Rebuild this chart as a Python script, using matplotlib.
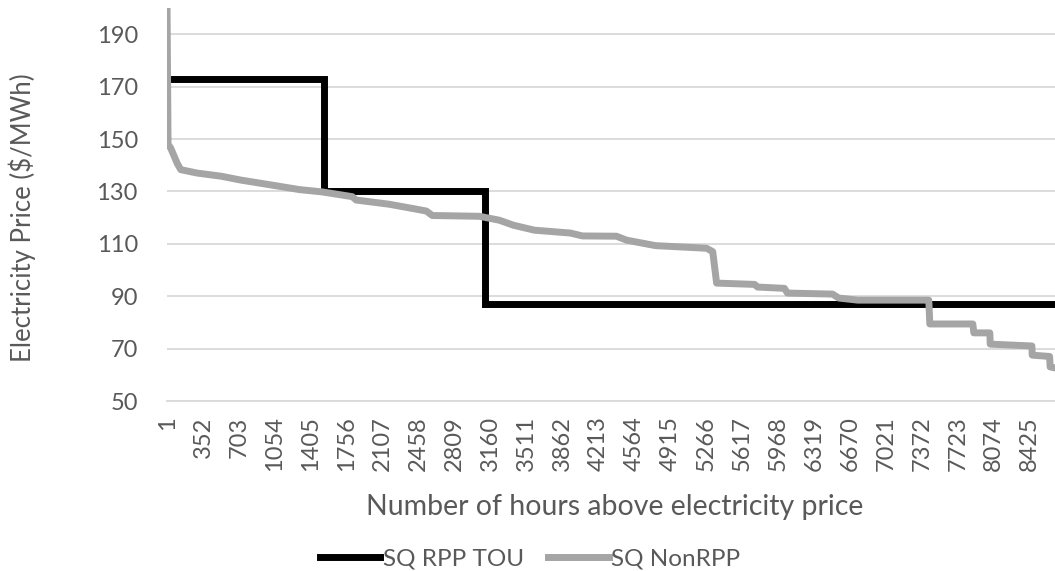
import matplotlib
matplotlib.use("Agg")
from matplotlib import pyplot as plt

# price duration data (hour rank, $/MWh)
rpp_hours = [1, 1536, 1536, 3103, 3103, 8760]
rpp_price = [173, 173, 130.3, 130.3, 87, 87]

nonrpp_hours = [1, 11, 37, 99, 135, 294, 529, 724, 1027, 1291, 1516, 1809,
                1848, 2171, 2396, 2533, 2591, 3051, 3246, 3383, 3588, 3940,
                4058, 4390, 4488, 4771, 5270, 5330, 5368, 5739, 5768, 6030,
                6060, 6500, 6560, 6746, 7440, 7450, 7870, 7880, 8036, 8040,
                8447, 8450, 8620, 8625, 8760]
nonrpp_price = [200, 148, 146.5, 140.8, 138.3, 137, 135.8, 134.3, 132.4,
                130.7, 129.8, 128, 126.7, 125.1, 123.5, 122.5, 120.8, 120.5,
                119, 117.1, 115.2, 114.1, 113, 112.9, 111.4, 109.3, 108.3,
                107, 95, 94.5, 93.5, 93, 91.2, 90.8, 89.3, 88.5, 88.5, 79.4,
                79.4, 76, 76, 71.7, 71, 67.5, 67, 63, 62]

tick_hours = list(range(1, 8760, 351))
y_ticks = [50, 70, 90, 110, 130, 150, 170, 190]

text_col = "#595959"
plt.rcParams['font.family'] = ['Lato', 'DejaVu Sans']

fig = plt.figure(figsize=(10.55, 5.71), dpi=100)
W, H = 1055, 571
ax = fig.add_axes([167 / W, 1 - 401 / H, (1064 - 167) / W, (401 - 8) / H])

ax.plot(rpp_hours, rpp_price, color="black", lw=5, label="SQ RPP TOU",
        solid_joinstyle="miter", zorder=3)
ax.plot(nonrpp_hours, nonrpp_price, color="#A5A5A5", lw=5, label="SQ NonRPP",
        solid_joinstyle="round", zorder=4)

ax.set_xlim(0.5, 8760.5)
ax.set_ylim(50, 200)
ax.set_yticks(y_ticks)
ax.set_xticks(tick_hours)
ax.set_xticklabels([str(t) for t in tick_hours], rotation=90, va="top")
ax.grid(axis="y", color="#D9D9D9", lw=1.3)
ax.set_axisbelow(True)
for s in ["top", "right", "left"]:
    ax.spines[s].set_visible(False)
ax.spines["bottom"].set_color("#D9D9D9")
ax.spines["bottom"].set_linewidth(1.3)
ax.tick_params(axis="both", length=0, labelsize=17, colors=text_col)
ax.tick_params(axis="y", pad=21)
ax.tick_params(axis="x", pad=11)

fig.text(615 / W, 1 - 515 / H, "Number of hours above electricity price",
         ha="center", va="baseline", fontsize=20.5, color=text_col)
fig.text(22 / W, 1 - 218 / H, "Electricity Price ($/MWh)", rotation=90,
         ha="center", va="center", fontsize=18.5, color=text_col)

fig.legend(loc="center", bbox_to_anchor=(530 / W, 1 - 559 / H), ncol=2,
           frameon=False, fontsize=17.5, handlelength=2.5, handletextpad=0.1,
           columnspacing=1.0, labelcolor=text_col)

fig.savefig("out.png", dpi=100)
